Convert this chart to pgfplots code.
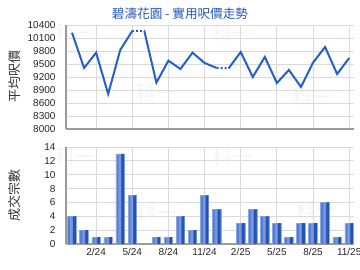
\documentclass[border=0pt]{standalone}
\usepackage{pgfplots}
\pgfplotsset{compat=1.18}
\usepackage{fontspec}
\setmainfont{Liberation Sans}
\newfontfamily\cjk{Noto Sans CJK TC}
\definecolor{lineblue}{RGB}{34,96,204}
\definecolor{titleblue}{RGB}{34,85,187}
\definecolor{bardark}{RGB}{38,82,180}
\definecolor{barmid}{RGB}{118,152,225}
\definecolor{barleft}{RGB}{86,126,208}
\definecolor{baredge}{RGB}{140,168,226}
\definecolor{gridc}{RGB}{218,218,218}
\definecolor{axisc}{RGB}{155,155,155}
\pgfplotsset{
  mystyle/.style={
    scale only axis, width=288pt,
    xmin=-0.5, xmax=23.4,
    axis x line*=bottom, axis y line*=left,
    axis line style={axisc, line width=1.2pt, -},
    major tick length=0pt,
    xtick={2,5,8,11,14,17,20,23},
    xmajorgrids, ymajorgrids,
    grid style={gridc, line width=0.8pt},
    tick label style={font=\fontsize{10}{12}\selectfont, text=black!85},
    yticklabel style={xshift=-7pt},
    xticklabel style={yshift=-1pt},
    scaled y ticks=false,
    /pgf/number format/assume math mode=true,
    /pgf/number format/1000 sep={},
    ylabel style={font=\cjk\fontsize{13}{13}\selectfont, text=black!80, at={(axis description cs:-0.177,0.5)}, anchor=center},
  }
}
\begin{document}
\begin{tikzpicture}
\useasboundingbox (0pt,0pt) rectangle (360pt,270pt);
\foreach \px/\py in {76/237, 233/237, 157/177, 313/173, 76/113, 233/113, 157/57, 317/60}
  \node[text=gray!9, font=\cjk\fontsize{20}{20}\selectfont] at (\px pt,\py pt) {科一};
\node[text=titleblue, font=\cjk\fontsize{12.6}{12.6}\selectfont] at (180pt,256pt) {碧濤花園 - 實用呎價走勢};
\begin{axis}[mystyle, at={(66pt,141pt)}, anchor=south west, height=104pt,
  ymin=8000, ymax=10400, ytick={8000,8300,...,10400}, xticklabels={},
  ylabel={平均呎價}]
\addplot[lineblue, line width=2pt] coordinates {(0,10223) (1,9408) (2,9762) (3,8808) (4,9823) (5,10262)};
\addplot[lineblue, line width=2pt, dotted] coordinates {(5,10262) (6,10262)};
\addplot[lineblue, line width=2pt] coordinates {(6,10262) (7,9069) (8,9577) (9,9385) (10,9762) (11,9523) (12,9408)};
\addplot[lineblue, line width=2pt, dotted] coordinates {(12,9408) (13,9400)};
\addplot[lineblue, line width=2pt] coordinates {(13,9400) (14,9777) (15,9200) (16,9662) (17,9062) (18,9362) (19,8969) (20,9531) (21,9892) (22,9269) (23,9638)};
\end{axis}
\pgfplotstableread{
x y
0 4
1 2
2 1
3 1
4 13
5 7
7 1
8 1
9 4
10 2
11 7
12 5
14 3
15 5
16 4
17 3
18 1
19 3
20 3
21 6
22 1
23 3
}\bars
\begin{axis}[mystyle, at={(66pt,26pt)}, anchor=south west, height=97pt,
  ymin=0, ymax=14, ytick={0,2,...,14},
  xticklabels={2/24,5/24,8/24,11/24,2/25,5/25,8/25,11/25},
  ylabel={成交宗數}]
\addplot[ybar, bar width=8.5pt, bar shift=0pt, draw=baredge, line width=0.7pt, fill=barleft] table {\bars};
\addplot[ybar, bar width=2.6pt, bar shift=2.5pt, draw=none, fill=bardark] table {\bars};
\addplot[ybar, bar width=2.4pt, bar shift=-0.6pt, draw=none, fill=barmid] table {\bars};
\end{axis}
\end{tikzpicture}
\end{document}
